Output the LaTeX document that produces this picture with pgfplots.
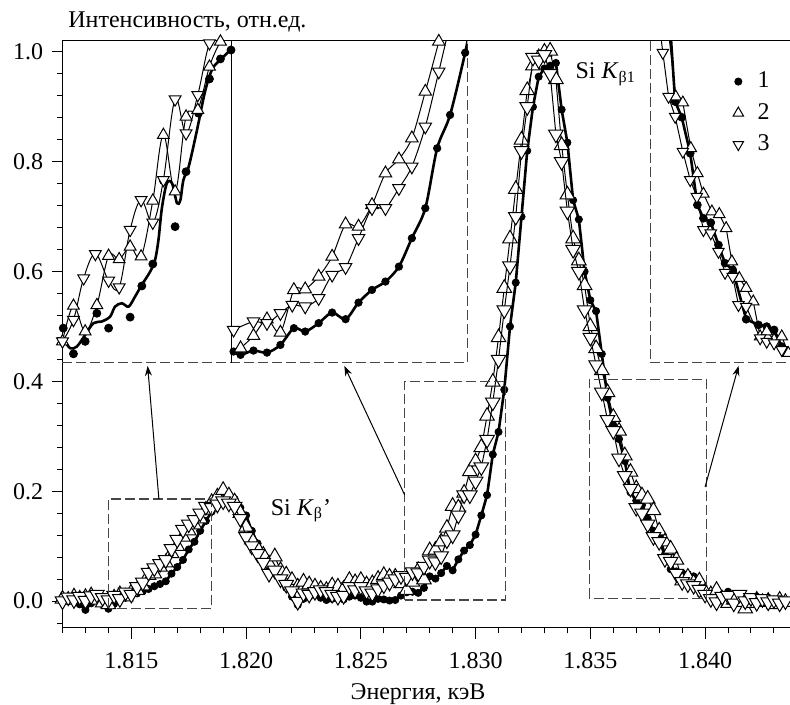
\documentclass[border=0pt]{standalone}
\usepackage{pgfplots}
\pgfplotsset{compat=1.18}
\usepackage{pgfplotstable}
\usepackage{fontspec}
\setmainfont{Liberation Serif}
\usetikzlibrary{arrows.meta}
\definecolor{dashgray}{RGB}{70,70,70}

\pgfplotstableread{
x s1 s2 s3
1.81200 0.002 0.004 0.000
1.81225 0.000 0.002 0.007
1.81250 0.003 0.008 0.002
1.81275 -0.006 0.004 0.008
1.81300 -0.016 0.007 0.001
1.81325 -0.004 0.010 0.009
1.81350 0.002 0.002 0.012
1.81375 -0.006 -0.003 0.006
1.81400 -0.014 -0.006 0.002
1.81425 -0.005 0.006 0.010
1.81450 0.002 0.012 0.004
1.81475 0.006 0.008 0.016
1.81500 0.010 0.016 0.012
1.81525 0.014 0.020 0.026
1.81550 0.018 0.028 0.034
1.81575 0.022 0.047 0.052
1.81600 0.027 0.050 0.060
1.81625 0.031 0.062 0.068
1.81650 0.036 0.070 0.075
1.81675 0.050 0.087 0.095
1.81700 0.062 0.100 0.112
1.81725 0.075 0.117 0.130
1.81750 0.094 0.128 0.140
1.81775 0.108 0.139 0.148
1.81800 0.128 0.150 0.160
1.81825 0.146 0.166 0.172
1.81850 0.163 0.180 0.170
1.81875 0.185 0.190 0.176
1.81900 0.199 0.202 0.182
1.81925 0.194 0.192 0.178
1.81950 0.186 0.181 0.172
1.81975 0.170 0.160 0.150
1.82000 0.156 0.135 0.117
1.82025 0.128 0.112 0.100
1.82050 0.105 0.096 0.086
1.82075 0.082 0.084 0.070
1.82100 0.064 0.068 0.050
1.82125 0.052 0.081 0.056
1.82150 0.038 0.056 0.040
1.82175 0.024 0.048 0.030
1.82200 0.008 0.038 0.018
1.82225 -0.007 0.026 -0.001
1.82250 0.004 0.035 0.014
1.82275 0.008 0.030 0.012
1.82300 0.011 0.026 0.017
1.82325 0.006 0.022 0.020
1.82350 0.002 0.020 0.017
1.82375 0.004 0.028 0.012
1.82400 0.006 0.026 0.008
1.82425 0.003 0.022 0.010
1.82450 0.008 0.038 0.026
1.82475 0.010 0.034 0.020
1.82500 0.006 0.038 0.026
1.82525 -0.001 0.030 0.018
1.82550 -0.001 0.032 0.014
1.82575 0.004 0.040 0.022
1.82600 0.003 0.047 0.029
1.82625 0.001 0.044 0.034
1.82650 0.002 0.044 0.040
1.82675 0.010 0.032 0.046
1.82700 0.016 0.020 0.043
1.82725 0.017 0.035 0.053
1.82750 0.015 0.056 0.051
1.82775 0.024 0.039 0.063
1.82800 0.045 0.092 0.074
1.82825 0.041 0.093 0.071
1.82850 0.051 0.108 0.082
1.82875 0.064 0.133 0.111
1.82900 0.056 0.173 0.120
1.82925 0.076 0.170 0.156
1.82950 0.092 0.197 0.193
1.82975 0.102 0.236 0.193
1.83000 0.121 0.254 0.218
1.83025 0.156 0.280 0.244
1.83050 0.193 0.337 0.294
1.83075 0.267 0.399 0.362
1.83100 0.308 0.480 0.440
1.83125 0.385 0.570 0.530
1.83150 0.500 0.660 0.610
1.83175 0.580 0.750 0.700
1.83200 0.700 0.840 0.820
1.83225 0.820 0.930 0.900
1.83250 0.900 0.975 0.990
1.83275 0.955 0.990 0.985
1.83300 0.970 1.000 0.995
1.83325 0.975 1.002 0.960
1.83350 0.980 0.950 0.850
1.83375 0.895 0.830 0.800
1.83400 0.835 0.740 0.710
1.83425 0.730 0.660 0.640
1.83450 0.695 0.620 0.600
1.83475 0.600 0.575 0.530
1.83500 0.548 0.500 0.480
1.83525 0.528 0.460 0.430
1.83550 0.450 0.420 0.380
1.83575 0.370 0.380 0.330
1.83600 0.320 0.335 0.310
1.83625 0.295 0.310 0.260
1.83650 0.255 0.265 0.228
1.83675 0.198 0.235 0.205
1.83700 0.183 0.205 0.170
1.83725 0.175 0.192 0.160
1.83750 0.150 0.186 0.140
1.83775 0.128 0.165 0.117
1.83800 0.118 0.128 0.108
1.83825 0.085 0.108 0.077
1.83850 0.058 0.095 0.072
1.83875 0.054 0.075 0.050
1.83900 0.051 0.037 0.035
1.83925 0.049 0.044 0.031
1.83950 0.045 0.033 0.028
1.83975 0.025 0.037 0.021
1.84000 0.017 0.017 0.012
1.84025 0.010 0.012 0.004
1.84050 0.006 0.020 -0.002
1.84075 0.004 0.004 0.008
1.84100 0.017 -0.004 0.010
1.84125 0.008 0.002 -0.004
1.84150 0.004 -0.002 0.012
1.84175 0.002 -0.014 0.000
1.84200 0.000 -0.004 0.006
1.84225 -0.002 0.002 -0.003
1.84250 0.001 -0.002 0.004
1.84275 0.000 0.000 -0.002
1.84300 -0.002 -0.006 0.002
1.84325 0.001 0.002 -0.004
1.84350 0.000 -0.002 0.000
1.84375 0.002 0.004 0.002
}\maindata

\pgfplotsset{
  sone/.style={black, line width=1.3pt, mark=*, mark size=1.8pt, mark options={solid, fill=black, line width=0.4pt}},
  stwo/.style={black, line width=0.5pt, mark=triangle*, mark size=4.2pt, mark options={solid, fill=white, draw=black, line width=0.5pt}},
  sthree/.style={black, line width=0.5pt, mark=triangle*, mark size=4.2pt, mark options={solid, fill=white, draw=black, line width=0.5pt, rotate=180}},
}
\tikzset{dashbox/.style={dashgray, line width=0.6pt, dash pattern=on 5pt off 2pt}}

\begin{document}
\fontsize{12}{14.5}\selectfont
\begin{tikzpicture}
\begin{axis}[
  name=main,
  scale only axis, width=363.75pt, height=293.5pt,
  xmin=1.812, xmax=1.8437, ymin=-0.049, ymax=1.02,
  axis x line*=bottom, axis y line*=left,
  axis line style={line width=0.5pt, black},
  tick align=outside,
  xtick={1.815,1.820,1.825,1.830,1.835,1.840},
  minor xtick={1.812,1.813,1.814,1.816,1.817,1.818,1.819,1.821,1.822,1.823,1.824,1.826,1.827,1.828,1.829,1.831,1.832,1.833,1.834,1.836,1.837,1.838,1.839,1.841,1.842,1.843},
  ytick={0,0.2,0.4,0.6,0.8,1.0},
  minor ytick={-0.04,0.04,0.08,0.12,0.16,0.24,0.28,0.32,0.36,0.44,0.48,0.52,0.56,0.64,0.68,0.72,0.76,0.84,0.88,0.92,0.96},
  major tick length=5.5pt, minor tick length=2.75pt,
  every tick/.style={black, line width=0.5pt},
  scaled x ticks=false, scaled y ticks=false,
  /pgf/number format/assume math mode=true,
  xticklabel style={/pgf/number format/fixed, /pgf/number format/fixed zerofill, /pgf/number format/precision=3, yshift=-2.5pt},
  yticklabel style={/pgf/number format/fixed, /pgf/number format/fixed zerofill, /pgf/number format/precision=1},
  clip mode=individual,
  legend style={draw=none, fill=none, at={(0.9213,0.9549)}, anchor=north west, inner sep=0pt, row sep=2pt},
  legend cell align=left,
]
\addlegendimage{only marks, mark=*, mark size=1.8pt, black}
\addlegendentry{\hspace{5pt}1}
\addlegendimage{only marks, mark=triangle*, mark size=3pt, mark options={fill=white, draw=black, line width=0.5pt}}
\addlegendentry{\hspace{5pt}2}
\addlegendimage{only marks, mark=triangle*, mark size=3pt, mark options={fill=white, draw=black, line width=0.5pt, rotate=180}}
\addlegendentry{\hspace{5pt}3}

\addplot[sone, forget plot] table[x=x, y=s1]{\maindata};
\addplot[stwo, forget plot] table[x=x, y=s2]{\maindata};
\addplot[sthree, forget plot] table[x=x, y=s3]{\maindata};

% top border
\draw[black, line width=0.5pt] (rel axis cs:0,1) -- (rel axis cs:1,1);
% zoom boxes
\draw[dashbox] (axis cs:1.81402,-0.0133) rectangle (axis cs:1.81849,0.1859);
\draw[dashbox] (axis cs:1.82691,0.0018) rectangle (axis cs:1.83129,0.3997);
\draw[dashbox] (axis cs:1.83495,0.0049) rectangle (axis cs:1.84005,0.404);
% inset borders
\draw[dashbox] (axis cs:1.812,0.4338) -- (axis cs:1.82964,0.4338) -- (axis cs:1.82964,1.02);
\draw[black, line width=0.5pt] (axis cs:1.81936,0.4338) -- (axis cs:1.81936,1.02);
\draw[dashbox] (axis cs:1.83761,1.02) -- (axis cs:1.83761,0.4338) -- (axis cs:1.8437,0.4338);
% arrows
\draw[black, line width=0.5pt, -{Stealth[length=5pt, width=3.5pt]}] (axis cs:1.81620,0.1859) -- (axis cs:1.81571,0.4283);
\draw[black, line width=0.5pt, -{Stealth[length=5pt, width=3.5pt]}] (axis cs:1.82691,0.1932) -- (axis cs:1.82428,0.4283);
\draw[black, line width=0.5pt, -{Stealth[length=5pt, width=3.5pt]}] (axis cs:1.84000,0.2078) -- (axis cs:1.84146,0.4283);
% labels
\node[anchor=base west, inner sep=0pt] at (axis cs:1.82106,0.1567) {Si \textit{K}\textsubscript{β}’};
\node[anchor=base west, inner sep=0pt] at (axis cs:1.83434,0.9513) {Si \textit{K}\textsubscript{β1}};
\node[anchor=base west, inner sep=0pt, xshift=2.75pt, yshift=6.5pt] at (rel axis cs:0,1) {Интенсивность, отн.ед.};
\node[anchor=base, inner sep=0pt, yshift=-36pt] at (rel axis cs:0.4887,0) {Энергия, кэВ};
\coordinate (i1) at (axis cs:1.812,0.4338);
\coordinate (i2) at (axis cs:1.81936,0.4338);
\coordinate (i3) at (axis cs:1.83761,0.4338);
\coordinate (BL) at (rel axis cs:0,0);
\coordinate (TR) at (rel axis cs:1,1);
\end{axis}

% ---------- inset 1 ----------
\begin{axis}[at={(i1)}, anchor=south west, scale only axis, width=84.45pt, height=160.95pt,
  xmin=1.81402, xmax=1.81849, ymin=-0.0133, ymax=0.1859, hide axis, clip=true]
\addplot[black, line width=1.3pt, smooth, tension=0.5] coordinates {
(1.81402,0.0020) (1.81422,-0.0042) (1.81440,-0.0032) (1.81462,0.0040) (1.81484,0.0113)
(1.81506,0.0123) (1.81528,0.0153) (1.81541,0.0215) (1.81559,0.0236) (1.81577,0.0215)
(1.81594,0.0277) (1.81612,0.0350) (1.81634,0.0432) (1.81647,0.0504) (1.81656,0.0628)
(1.81665,0.0824) (1.81678,0.0978) (1.81692,0.0978) (1.81705,0.0855) (1.81714,0.0875)
(1.81722,0.0999) (1.81736,0.1081) (1.81758,0.1308) (1.81776,0.1514) (1.81789,0.1628)
(1.81802,0.1700) (1.81824,0.1752) (1.81848,0.1814) (1.81860,0.1900)};
\addplot[only marks, mark=*, mark size=2pt, black] coordinates {
(1.81404,0.0082) (1.81431,-0.0077) (1.81462,0.0000) (1.81493,0.0174) (1.81524,0.0082)
(1.81581,0.0150) (1.81612,0.0343) (1.81641,0.0479) (1.81669,0.0995) (1.81700,0.0710)
(1.81729,0.1050) (1.81762,0.1412) (1.81791,0.1624) (1.81820,0.1748) (1.81848,0.1803)};
\addplot[black, line width=0.5pt, smooth, tension=0.6, mark=triangle*, mark size=3.4pt, mark options={solid, fill=white, draw=black, line width=0.5pt}] coordinates {
(1.81402,0.0000) (1.81431,0.0220) (1.81462,0.0061) (1.81493,0.0224) (1.81524,0.0529)
(1.81552,0.0508) (1.81581,0.0586) (1.81610,0.0525) (1.81641,0.0871) (1.81669,0.1277)
(1.81700,0.0927) (1.81729,0.1391) (1.81760,0.1432) (1.81791,0.1700) (1.81820,0.1855)
(1.81848,0.1950)};
\addplot[black, line width=0.5pt, smooth, tension=0.6, mark=triangle*, mark size=3.4pt, mark options={solid, fill=white, draw=black, line width=0.5pt, rotate=180}] coordinates {
(1.81402,0.0000) (1.81431,0.0133) (1.81458,0.0391) (1.81489,0.0541) (1.81524,0.0376)
(1.81552,0.0335) (1.81581,0.0690) (1.81610,0.0875) (1.81641,0.0735) (1.81669,0.0999)
(1.81700,0.1498) (1.81729,0.1288) (1.81760,0.1525) (1.81791,0.1845) (1.81820,0.1900)};
\end{axis}

% ---------- inset 2 ----------
\begin{axis}[at={(i2)}, anchor=south west, scale only axis, width=117.96pt, height=160.95pt,
  xmin=1.82691, xmax=1.83129, ymin=0.0018, ymax=0.3997, hide axis, clip=true]
\addplot[black, line width=1.3pt, smooth, tension=0.5, mark=*, mark size=1.9pt, mark options={solid, fill=black, line width=0.3pt}] coordinates {
(1.82695,0.0158) (1.82708,0.0117) (1.82732,0.0170) (1.82757,0.0145) (1.82782,0.0240)
(1.82807,0.0447) (1.82828,0.0405) (1.82853,0.0509) (1.82878,0.0640) (1.82903,0.0558)
(1.82927,0.0763) (1.82952,0.0920) (1.82977,0.1023) (1.83002,0.1208) (1.83026,0.1559)
(1.83051,0.1930) (1.83073,0.2671) (1.83097,0.3083) (1.83125,0.3852) (1.83135,0.4200)};
\addplot[black, line width=0.5pt, smooth, tension=0.5, mark=triangle*, mark size=3.6pt, mark options={solid, fill=white, draw=black, line width=0.5pt}] coordinates {
(1.82708,0.0200) (1.82732,0.0352) (1.82757,0.0558) (1.82782,0.0393) (1.82807,0.0920)
(1.82828,0.0929) (1.82853,0.1085) (1.82878,0.1332) (1.82903,0.1732) (1.82927,0.1703)
(1.82952,0.1970) (1.82977,0.2362) (1.83002,0.2535) (1.83026,0.2795) (1.83051,0.3371)
(1.83076,0.3989) (1.83090,0.4400)};
\addplot[black, line width=0.5pt, smooth, tension=0.5, mark=triangle*, mark size=3.6pt, mark options={solid, fill=white, draw=black, line width=0.5pt, rotate=180}] coordinates {
(1.82695,0.0426) (1.82732,0.0529) (1.82757,0.0509) (1.82782,0.0632) (1.82804,0.0735)
(1.82828,0.0714) (1.82853,0.0817) (1.82878,0.1106) (1.82903,0.1201) (1.82927,0.1559)
(1.82952,0.1930) (1.82977,0.1930) (1.83002,0.2177) (1.83026,0.2444) (1.83051,0.2938)
(1.83076,0.3618) (1.83100,0.4300)};
\end{axis}

% ---------- inset 3 ----------
\begin{axis}[at={(i3)}, anchor=south west, scale only axis, width=69.88pt, height=160.95pt,
  xmin=1.83495, xmax=1.84005, ymin=0.0049, ymax=0.404, hide axis, clip=true]
\addplot[black, line width=1.3pt, mark=*, mark size=2pt, mark options={solid, fill=black, line width=0.3pt}] coordinates {
(1.83570,0.4100) (1.83586,0.3288) (1.83610,0.3094) (1.83641,0.2648) (1.83667,0.2007)
(1.83689,0.1842) (1.83716,0.1788) (1.83744,0.1511) (1.83768,0.1285) (1.83796,0.1202)
(1.83845,0.0590) (1.83890,0.0520) (1.83920,0.0499) (1.83947,0.0458) (1.83975,0.0251)
(1.83999,0.0177)};
\addplot[black, line width=0.5pt, mark=triangle*, mark size=3.3pt, mark options={solid, fill=white, draw=black, line width=0.5pt}] coordinates {
(1.83565,0.4052) (1.83588,0.3350) (1.83614,0.3275) (1.83643,0.2710) (1.83667,0.2400)
(1.83689,0.2144) (1.83720,0.1924) (1.83747,0.1892) (1.83772,0.1718) (1.83793,0.1305)
(1.83820,0.1099) (1.83845,0.0975) (1.83871,0.0809) (1.83896,0.0375) (1.83920,0.0437)
(1.83947,0.0334) (1.83975,0.0375) (1.83999,0.0169)};
\addplot[black, line width=0.5pt, mark=triangle*, mark size=3.3pt, mark options={solid, fill=white, draw=black, line width=0.5pt, rotate=180}] coordinates {
(1.83530,0.4200) (1.83541,0.3895) (1.83562,0.3350) (1.83586,0.3102) (1.83614,0.2668)
(1.83641,0.2317) (1.83665,0.2110) (1.83689,0.1697) (1.83716,0.1656) (1.83744,0.1428)
(1.83768,0.1168) (1.83796,0.1119) (1.83817,0.0768) (1.83845,0.0747) (1.83896,0.0355)
(1.83920,0.0313) (1.83947,0.0293) (1.83975,0.0210)};
\end{axis}

\pgfresetboundingbox
\path[use as bounding box] ([xshift=-31.25pt, yshift=-38.5pt]BL) rectangle ([yshift=20.5pt]TR);
\end{tikzpicture}
\end{document}
